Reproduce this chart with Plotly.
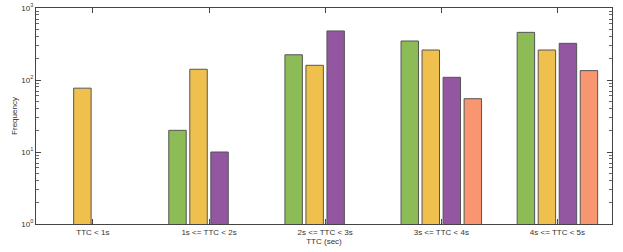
import plotly.graph_objects as go

categories = ["TTC < 1s", "1s <= TTC < 2s", "2s <= TTC < 3s", "3s <= TTC < 4s", "4s <= TTC < 5s"]
series_green = [None, 20, 224, 348, 459]
series_yellow = [77, 141, 160, 261, 261]
series_purple = [None, 10, 480, 109, 323]
series_salmon = [None, None, None, 55, 135]

colors = ["#8DBB56", "#F0C04E", "#9357A2", "#F79670"]
series = [series_green, series_yellow, series_purple, series_salmon]
names = ["A", "B", "C", "D"]

fig = go.Figure()
for vals, c, n in zip(series, colors, names):
    fig.add_trace(go.Bar(
        x=list(range(len(categories))), y=vals, name=n,
        marker=dict(color=c, line=dict(color="#555555", width=1)),
    ))

font = dict(family="Liberation Sans, Arial, sans-serif", size=8, color="#333333")
fig.update_layout(
    template="none",
    width=623, height=252,
    margin=dict(l=36, r=11, t=8, b=28, autoexpand=False),
    plot_bgcolor="white", paper_bgcolor="white",
    barmode="group", bargap=0.276, bargroupgap=0.17,
    showlegend=False,
    font=font,
)
fig.update_xaxes(
    tickvals=list(range(len(categories))), ticktext=categories,
    range=[-0.49, 4.47], automargin=False,
    ticks="inside", ticklen=5, tickcolor="#444444", tickwidth=1,
    showline=True, linecolor="#444444", linewidth=1, mirror="ticks",
    showgrid=False, zeroline=False,
    title=dict(text="TTC (sec)", standoff=1, font=font),
    tickfont=font,
)
fig.update_yaxes(
    type="log", range=[0, 3], automargin=False,
    tickvals=[1, 10, 100, 1000],
    ticktext=["10<sup>0</sup>", "10<sup>1</sup>", "10<sup>2</sup>", "10<sup>3</sup>"],
    ticks="inside", ticklen=5, tickcolor="#444444", tickwidth=1,
    minor=dict(ticks="inside", ticklen=3, tickcolor="#666666", dtick="D1", showgrid=False),
    showline=True, linecolor="#444444", linewidth=1, mirror="ticks",
    showgrid=False, zeroline=False,
    title=dict(text="Frequency", standoff=2, font=font),
    tickfont=font,
)
fig.write_html("out.html", config={"displayModeBar": False},
               post_script="document.body.style.margin='0';")
